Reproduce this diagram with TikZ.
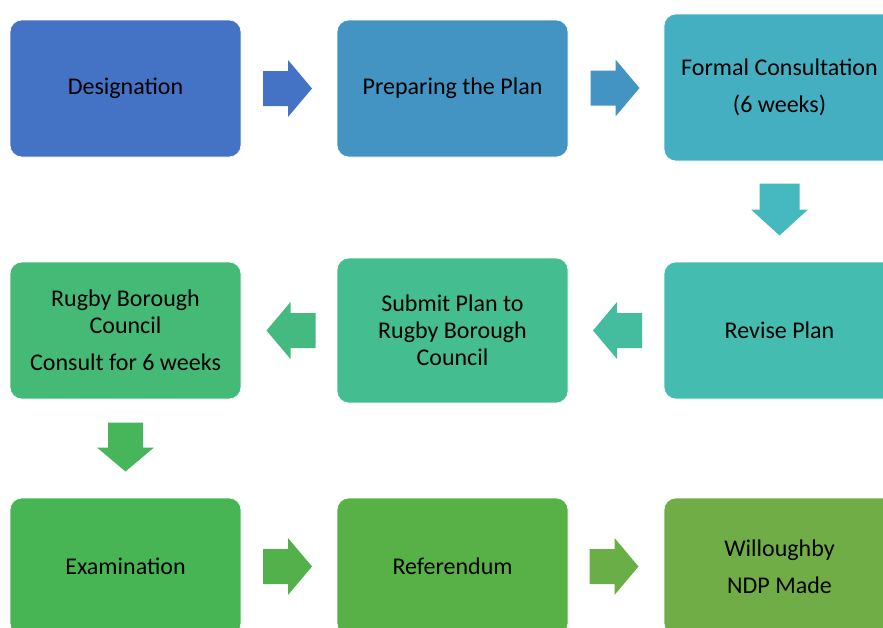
\documentclass[tikz,border=0pt]{standalone}
\usepackage{fontspec}
\setmainfont{Carlito}
\usetikzlibrary{calc}
\definecolor{c1}{HTML}{4472C4}
\definecolor{c2}{HTML}{4393C3}
\definecolor{c3}{HTML}{44AFC0}
\definecolor{c4}{HTML}{44BDB0}
\definecolor{c5}{HTML}{44BD90}
\definecolor{c6}{HTML}{45BA76}
\definecolor{c7}{HTML}{48B554}
\definecolor{c8}{HTML}{57B147}
\definecolor{c9}{HTML}{70AD47}
\definecolor{a1}{HTML}{4472C4}
\definecolor{a2}{HTML}{4394C3}
\definecolor{a3}{HTML}{46B8C0}
\definecolor{a4}{HTML}{44BD9E}
\definecolor{a5}{HTML}{45BA80}
\definecolor{a6}{HTML}{47B55A}
\definecolor{a7}{HTML}{52B14A}
\definecolor{a8}{HTML}{6AAE47}
\tikzset{
  stepbox/.style={rectangle, rounded corners=12pt, draw=white, line width=0.6pt,
    minimum width=231pt, minimum height=137pt, inner sep=0pt, align=center,
    font=\fontsize{24}{27}\selectfont, text=black},
  barrow/.pic={\path[pic actions] (-24.5,-17.5) -- (0.5,-17.5) -- (0.5,-28.5) -- (24.5,0)
     -- (0.5,28.5) -- (0.5,17.5) -- (-24.5,17.5) -- cycle;},
  barrowwide/.pic={\path[pic actions] (-26,-20) -- (0,-20) -- (0,-28.5) -- (26,0)
     -- (0,28.5) -- (0,20) -- (-26,20) -- cycle;}
}
\begin{document}
\begin{tikzpicture}[x=1pt,y=-1pt]
\useasboundingbox (0,0) rectangle (883,627);
\clip (0,0) rectangle (883,627);
\node[stepbox, fill=c1] (des) at (125.5,88.5) {Designation};
\node[stepbox, fill=c2] (prep) at (452.5,88.5) {Preparing the Plan};
\node[stepbox, fill=c3, minimum height=147pt] (formal) at (779.5,87.5) {Formal Consultation\\[10pt](6 weeks)};
\node[stepbox, fill=c4] (revise) at (779.5,330.5) {Revise Plan};
\node[stepbox, fill=c5, minimum height=145pt] (submit) at (452.5,330.5) {Submit Plan to\\Rugby Borough\\Council};
\node[stepbox, fill=c6] (rugby) at (125.5,330.5) {Rugby Borough\\Council\\[10pt]Consult for 6 weeks};
\node[stepbox, fill=c7] (exam) at (125.5,566.5) {Examination};
\node[stepbox, fill=c8] (ref) at (452.5,566.5) {Referendum};
\node[stepbox, fill=c9] (will) at (779.5,566.5) {Willoughby\\[10pt]NDP Made};
\pic[fill=a1] at ($(des.east)!0.5!(prep.west)+(-1.5,0)$) {barrow};
\pic[fill=a2] at ($(prep.east)!0.5!(formal.west)+(-1,0)$) {barrow};
\pic[fill=a3, rotate=-90] at ($(formal.south)!0.5!(revise.north)+(0,-2)$) {barrowwide};
\pic[fill=a4, rotate=180] at ($(revise.west)!0.5!(submit.east)+(1.5,0)$) {barrow};
\pic[fill=a5, rotate=180] at ($(submit.west)!0.5!(rugby.east)+(2,0)$) {barrow};
\pic[fill=a6, rotate=-90] at ($(rugby.south)!0.5!(exam.north)+(0,-1.5)$) {barrow};
\pic[fill=a7] at ($(exam.east)!0.5!(ref.west)+(-1.5,0)$) {barrow};
\pic[fill=a8] at ($(ref.east)!0.5!(will.west)+(-2,0)$) {barrow};
\end{tikzpicture}
\end{document}
